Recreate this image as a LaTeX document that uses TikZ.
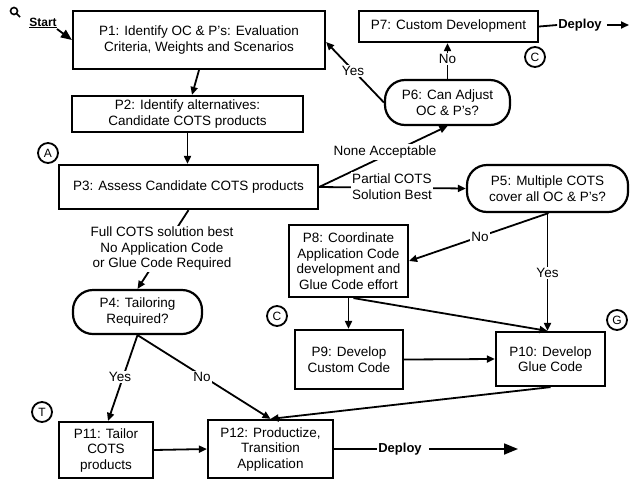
\documentclass[tikz,border=0pt]{standalone}
\usepackage{fontspec}
\setmainfont{Liberation Sans}
\usetikzlibrary{arrows.meta}
\begin{document}
\begin{tikzpicture}[x=1pt,y=-1pt,
 every node/.style={font=\fontsize{13.5}{15.5}\selectfont},
 box/.style={draw,line width=2.2pt,align=center,inner sep=0pt},
 stad/.style={box,rounded corners=20pt},
 lbl/.style={fill=white,inner sep=1.5pt,align=center},
 conn/.style={line width=1.8pt,-{Triangle[length=8pt,width=7pt]}},
 plainline/.style={line width=1.8pt},
 tag/.style={draw,circle,line width=1.8pt,minimum size=20pt,inner sep=0pt,font=\fontsize{12}{12}\selectfont},
 dep/.style={font=\bfseries\fontsize{13}{13}\selectfont,inner sep=0pt}]
\useasboundingbox (0,0) rectangle (631,480);

% process nodes
\node[box,minimum width=252pt,minimum height=58pt] (P1) at (199,40) {P1: Identify OC \& P's: Evaluation\\Criteria, Weights and Scenarios};
\node[box,minimum width=231pt,minimum height=36pt] (P2) at (187.5,114) {P2: Identify alternatives:\\Candidate COTS products};
\node[box,minimum width=259pt,minimum height=44pt] (P3) at (188.5,187) {P3: Assess Candidate COTS products};
\node[stad,minimum width=129pt,minimum height=44pt] (P4) at (137.5,312) {P4: Tailoring\\Required?};
\node[stad,minimum width=161pt,minimum height=47pt] (P5) at (547.5,188.5) {P5: Multiple COTS\\cover all OC \& P's?};
\node[stad,minimum width=125pt,minimum height=45pt] (P6) at (447.5,102.5) {P6: Can Adjust\\OC \& P's?};
\node[box,minimum width=179pt,minimum height=31pt] (P7) at (448.5,26.5) {P7: Custom Development};
\node[box,minimum width=119pt,minimum height=72pt] (P8) at (348.5,261) {P8: Coordinate\\Application Code\\development and\\Glue Code effort};
\node[box,minimum width=108pt,minimum height=59pt] (P9) at (349,359.5) {P9: Develop\\Custom Code};
\node[box,minimum width=109pt,minimum height=54pt] (P10) at (550.5,359) {P10: Develop\\Glue Code};
\node[box,minimum width=94pt,minimum height=56pt] (P11) at (106,450) {P11: Tailor\\COTS\\products};
\node[box,minimum width=125pt,minimum height=58pt] (P12) at (270.5,449) {P12: Productize,\\Transition\\Application};

% tags
\node[tag] (tA) at (48,153) {A};
\node[tag] (tC1) at (535,57) {C};
\node[tag] (tC2) at (277,316) {C};
\node[tag] (tT) at (42,412) {T};
\node[tag] (tG) at (617,320) {G};

% start
\draw[line width=1.6pt] (14,11) circle (3.5pt);
\draw[line width=1.6pt] (16.5,13.5) -- (20,17);
\node[font=\bfseries\fontsize{12}{12}\selectfont,inner sep=0pt] (start) at (43,23) {\underline{Start}};
\coordinate (st) at (57,29);
\draw[line width=1.8pt,-{Triangle[length=11pt,width=9pt]}] (st) -- (P1.west);

% deploy texts
\node[dep] (D1) at (580,25) {Deploy};
\coordinate (D1end) at (629,25);
\node[dep] (D2) at (400,449) {Deploy};
\coordinate (D2end) at (518,449);

% connectors
\draw[conn] (P1.south) -- ([xshift=4.5pt]P2.north);
\draw[conn] (P2.south) -- (P2.south |- P3.north);
\draw[conn] (P3.east) -- (P6.south);
\draw[conn] (P3.east) -- (P5.west);
\draw[conn] (P6.north) -- (P6.north |- P7.south);
\draw[conn] (P6.west) -- ([yshift=-2pt]P1.east);
\draw[plainline] (P7.east) -- ([xshift=-1pt]D1.west);
\draw[conn] ([xshift=5pt]D1.east) -- (D1end);
\draw[conn] (P3.south) -- (P4.north);
\draw[conn] (P4.south) -- ([xshift=2pt]P11.north);
\draw[conn] (P4.south) -- (P12.north);
\draw[conn] (P10.south) -- (P12.north);
\draw[conn] (P11.east) -- (P12.west);
\draw[plainline] (P12.east) -- ([xshift=-1pt]D2.west);
\draw[line width=1.8pt,-{Triangle[length=14pt,width=11pt]}] ([xshift=7pt]D2.east) -- (D2end);
\draw[conn] ([xshift=1pt]P5.south) -- (P8.east);
\draw[conn] (P5.south) -- (P5.south |- P10.north);
\draw[conn] (P8.south) -- (P8.south |- P9.north);
\draw[conn] ([xshift=5pt]P8.south) -- (P5.south |- P10.north);
\draw[conn] (P9.east) -- (P10.west);

% labels
\node[lbl] (lNone) at (385,152) {None Acceptable};
\node[lbl] (lPart) at (392,186.5) {Partial COTS\\Solution Best};
\node[lbl] (lNo1) at (447.5,59) {No};
\node[lbl] (lYes1) at (353,71) {Yes};
\node[lbl] (lFull) at (162,249) {Full COTS solution best\\No Application Code\\or Glue Code Required};
\node[lbl] (lYes2) at (120,377) {Yes};
\node[lbl] (lNo2) at (202,377) {No};
\node[lbl] (lNo3) at (480,237) {No};
\node[lbl] (lYes3) at (547.5,273) {Yes};
\end{tikzpicture}
\end{document}
